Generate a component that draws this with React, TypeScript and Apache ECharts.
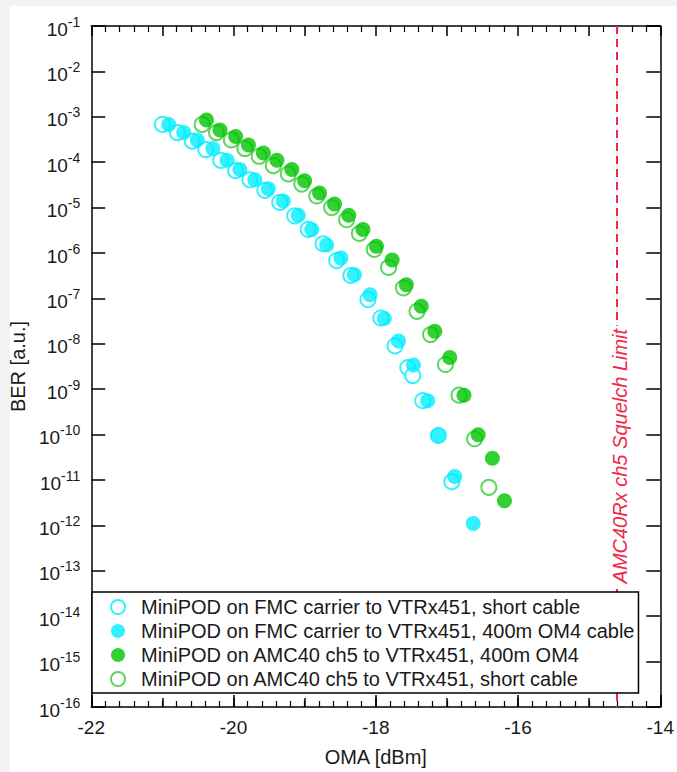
import React, { useEffect, useRef } from "react";
import * as echarts from "echarts";

const SERIES_NAMES = [
  "MiniPOD on FMC carrier to VTRx451, short cable",
  "MiniPOD on FMC carrier to VTRx451, 400m OM4 cable",
  "MiniPOD on AMC40 ch5 to VTRx451, 400m OM4",
  "MiniPOD on AMC40 ch5 to VTRx451, short cable",
];

const OMA_FMC_SHORT = [-21.0, -20.79, -20.58, -20.39, -20.18, -19.97, -19.77, -19.56, -19.35, -19.14, -18.95, -18.74, -18.55, -18.35, -18.11, -17.93, -17.73, -17.55, -17.48, -17.34, -17.12, -16.93];
const BER_FMC_SHORT = [6.8e-4, 4.5e-4, 2.9e-4, 1.9e-4, 1.1e-4, 6.5e-5, 4.1e-5, 2.4e-5, 1.3e-5, 6.6e-6, 3.3e-6, 1.6e-6, 6.8e-7, 3.2e-7, 9.4e-8, 3.7e-8, 9.0e-9, 3.0e-9, 2.0e-9, 5.6e-10, 9.6e-11, 9.2e-12];

const OMA_FMC_400M = [-20.91, -20.7, -20.51, -20.29, -20.09, -19.91, -19.7, -19.51, -19.3, -19.09, -18.9, -18.69, -18.49, -18.3, -18.08, -17.88, -17.68, -17.47, -17.27, -17.12, -16.89, -16.63];
const BER_FMC_400M = [6.8e-4, 4.5e-4, 3.1e-4, 2.0e-4, 1.1e-4, 6.9e-5, 4.1e-5, 2.6e-5, 1.4e-5, 6.8e-6, 3.3e-6, 1.5e-6, 7.8e-7, 3.3e-7, 1.2e-7, 3.6e-8, 1.15e-8, 3.4e-9, 5.6e-10, 9.6e-11, 1.2e-11, 1.1e-12];

const OMA_AMC_400M = [-20.38, -20.19, -19.97, -19.79, -19.58, -19.39, -19.18, -19.0, -18.79, -18.58, -18.38, -18.18, -17.99, -17.77, -17.57, -17.36, -17.17, -16.96, -16.76, -16.56, -16.36, -16.19];
const BER_AMC_400M = [8.5e-4, 5.1e-4, 3.7e-4, 2.4e-4, 1.6e-4, 1.1e-4, 6.9e-5, 3.9e-5, 2.1e-5, 1.2e-5, 6.8e-6, 3.3e-6, 1.4e-6, 7.0e-7, 2.0e-7, 6.7e-8, 1.9e-8, 5.0e-9, 7.4e-10, 9.9e-11, 3.0e-11, 3.5e-12];

const OMA_AMC_SHORT = [-20.44, -20.24, -20.03, -19.84, -19.64, -19.44, -19.23, -19.04, -18.83, -18.62, -18.41, -18.23, -18.02, -17.82, -17.61, -17.42, -17.23, -17.02, -16.83, -16.61, -16.41];
const BER_AMC_SHORT = [6.8e-4, 4.5e-4, 3.1e-4, 2.0e-4, 1.35e-4, 8.4e-5, 5.5e-5, 3.3e-5, 1.8e-5, 1.0e-5, 5.4e-6, 2.7e-6, 1.2e-6, 4.8e-7, 1.7e-7, 5.2e-8, 1.6e-8, 3.5e-9, 7.4e-10, 8.1e-11, 6.9e-12];

const SQUELCH_OMA = -14.61;
const SQUELCH_LABEL = "AMC40Rx ch5 Squelch Limit";
const X_MIN = -22;
const X_MAX = -14;
const BER_MIN = 1e-16;
const BER_MAX = 1e-1;
const X_TITLE = "OMA [dBm]";
const Y_TITLE = "BER [a.u.]";

const CYAN = "#00eeff";
const GREEN = "#00c400";
const GREEN_LIGHT = "#33cc33";
const RED = "#f0284a";
const INK = "#1a1a1a";
const FONT = "Liberation Sans, Arial, sans-serif";

const zip = (xs: number[], ys: number[]) => xs.map((x, i) => [x, ys[i]]);

export default function App() {
  const ref = useRef<HTMLDivElement>(null);
  useEffect(() => {
    if (!ref.current) return;
    const chart = echarts.init(ref.current, null, { renderer: "svg" });
    const tickLine = { color: "#000", width: 1.5 };
    const xCommon = {
      type: "value" as const,
      min: X_MIN,
      max: X_MAX,
      splitLine: { show: false },
    };
    const yCommon = {
      type: "log" as const,
      logBase: 10,
      min: BER_MIN,
      max: BER_MAX,
      interval: 1,
      splitLine: { show: false },
      minorTick: { show: false },
    };
    chart.setOption({
      animation: false,
      backgroundColor: "#f2f2f2",
      textStyle: { fontFamily: FONT },
      graphic: [
        {
          type: "rect",
          silent: true,
          z: -10,
          shape: { x: 10, y: 6, width: 667, height: 766 },
          style: { fill: "#ffffff" },
        },
      ],
      grid: { left: 90, right: 14, top: 26, bottom: 60 },
      xAxis: [
        {
          ...xCommon,
          position: "bottom",
          interval: 2,
          axisLine: { show: true, onZero: false, lineStyle: tickLine },
          axisTick: { show: true, inside: true, length: 12, lineStyle: tickLine },
          minorTick: { show: true, splitNumber: 10, length: 6, lineStyle: { color: "#000", width: 1.2 } },
          axisLabel: { show: true, fontSize: 19, color: INK, margin: 11, fontFamily: FONT },
          name: X_TITLE,
          nameLocation: "middle",
          nameGap: 40,
          nameTextStyle: { fontSize: 20, color: INK, fontFamily: FONT },
        },
        {
          ...xCommon,
          position: "bottom",
          interval: 1,
          axisLine: { show: false, onZero: false },
          axisTick: { show: true, inside: true, length: 9, lineStyle: tickLine },
          axisLabel: { show: false },
        },
        {
          ...xCommon,
          position: "top",
          interval: 1,
          axisLine: { show: true, onZero: false, lineStyle: tickLine },
          axisTick: { show: true, inside: true, length: 10, lineStyle: tickLine },
          minorTick: { show: true, splitNumber: 5, length: 6, lineStyle: { color: "#000", width: 1.2 } },
          axisLabel: { show: false },
        },
      ],
      yAxis: [
        {
          ...yCommon,
          position: "left",
          axisLine: { show: true, lineStyle: tickLine },
          axisTick: { show: true, inside: true, length: 14, lineStyle: tickLine },
          axisLabel: {
            show: true,
            margin: 11,
            formatter: (v: number) => `{a|10}{b|${Math.round(Math.log10(v))}}`,
            rich: {
              a: { fontSize: 19, color: INK, fontFamily: FONT, padding: [6, 0, 0, 0] },
              b: { fontSize: 14, color: INK, fontFamily: FONT, padding: [0, 0, 9, 0] },
            },
          },
          name: Y_TITLE,
          nameLocation: "middle",
          nameGap: 56,
          nameRotate: 90,
          nameTextStyle: { fontSize: 20, color: INK, fontFamily: FONT },
        },
        {
          ...yCommon,
          position: "right",
          axisLine: { show: true, lineStyle: tickLine },
          axisTick: { show: true, inside: true, length: 14, lineStyle: tickLine },
          axisLabel: { show: false },
        },
      ],
      legend: {
        data: SERIES_NAMES,
        orient: "vertical",
        left: 92,
        top: 592,
        backgroundColor: "#ffffff",
        borderColor: "#000",
        borderWidth: 1.5,
        padding: [5, 4, 4, 18],
        itemWidth: 14,
        itemHeight: 14,
        itemGap: 4,
        selectedMode: false,
        z: 10,
        textStyle: { fontSize: 20, color: INK, fontFamily: FONT, lineHeight: 20, padding: [0, 0, 0, 11] },
      },
      series: [
        {
          name: SERIES_NAMES[0],
          type: "scatter",
          symbolSize: 15,
          symbol: "emptyCircle",
          itemStyle: { color: CYAN, borderColor: CYAN, borderWidth: 1.6 },
          data: zip(OMA_FMC_SHORT, BER_FMC_SHORT),
          z: 2,
        },
        {
          name: SERIES_NAMES[3],
          type: "scatter",
          symbolSize: 15,
          symbol: "emptyCircle",
          itemStyle: { color: GREEN_LIGHT, borderColor: GREEN_LIGHT, borderWidth: 1.6 },
          data: zip(OMA_AMC_SHORT, BER_AMC_SHORT),
          z: 2,
        },
        {
          name: SERIES_NAMES[1],
          type: "scatter",
          symbolSize: 15,
          symbol: "circle",
          itemStyle: { color: CYAN },
          data: zip(OMA_FMC_400M, BER_FMC_400M),
          z: 3,
        },
        {
          name: SERIES_NAMES[2],
          type: "scatter",
          symbolSize: 15,
          symbol: "circle",
          itemStyle: { color: GREEN },
          data: zip(OMA_AMC_400M, BER_AMC_400M),
          z: 3,
          markLine: {
            silent: true,
            symbol: ["none", "none"],
            animation: false,
            lineStyle: { color: RED, type: [8, 5], width: 2 },
            label: { show: false },
            emphasis: { disabled: true },
            data: [
              [{ coord: [SQUELCH_OMA, BER_MAX] }, { coord: [SQUELCH_OMA, 10 ** -7.6] }],
              [
                {
                  coord: [SQUELCH_OMA, 10 ** -13.3],
                  lineStyle: { color: "rgba(255,255,255,0)", width: 0 },
                  label: {
                    show: true,
                    position: "middle",
                    distance: -13,
                    formatter: SQUELCH_LABEL,
                    color: RED,
                    fontSize: 20,
                    fontStyle: "italic",
                    fontFamily: FONT,
                  },
                },
                { coord: [SQUELCH_OMA, 10 ** -7.65] },
              ],
              [{ coord: [SQUELCH_OMA, 10 ** -13.4] }, { coord: [SQUELCH_OMA, BER_MIN] }],
            ],
          },
        },
      ],
    });
    return () => chart.dispose();
  }, []);
  return (
    <div
      ref={ref}
      style={{ position: "absolute", left: 0, top: 0, width: 677, height: 772 }}
    />
  );
}
